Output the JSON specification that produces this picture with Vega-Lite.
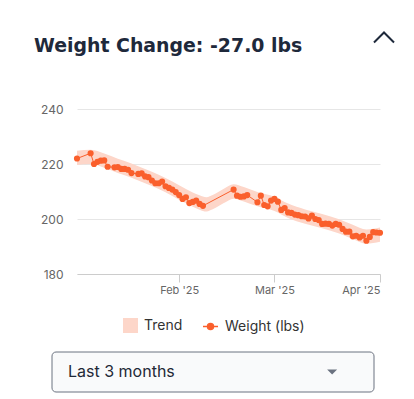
{
  "$schema": "https://vega.github.io/schema/vega-lite/v6.json",
  "background": "white",
  "padding": {"left": 34, "top": 22, "right": 0, "bottom": 0},
  "autosize": {"type": "pad"},
  "spacing": 19,
  "bounds": "full",
  "config": {"view": {"stroke": null}, "font": "Inter"},
  "datasets": {
    "header": [
      {"pos": 0, "row": "a", "label": "Weight Change: -27.0 lbs", "kind": "title"},
      {"pos": 1, "row": "a", "label": "", "kind": "caret"}
    ],
    "dropdown": [
      {"pos": 0, "row": "a", "label": "Last 3 months", "kind": "text"},
      {"pos": 0.87, "row": "a", "label": "", "kind": "arrow"}
    ],
    "weights": [
      {"date": "2025-01-02T00:00:00", "weight": 222.0},
      {"date": "2025-01-06T00:00:00", "weight": 223.9},
      {"date": "2025-01-07T00:00:00", "weight": 220.0},
      {"date": "2025-01-08T00:00:00", "weight": 220.8},
      {"date": "2025-01-09T00:00:00", "weight": 221.2},
      {"date": "2025-01-10T00:00:00", "weight": 221.3},
      {"date": "2025-01-11T00:00:00", "weight": 219.0},
      {"date": "2025-01-13T00:00:00", "weight": 218.8},
      {"date": "2025-01-14T00:00:00", "weight": 218.9},
      {"date": "2025-01-15T00:00:00", "weight": 218.2},
      {"date": "2025-01-16T00:00:00", "weight": 218.2},
      {"date": "2025-01-17T00:00:00", "weight": 217.9},
      {"date": "2025-01-18T00:00:00", "weight": 216.7},
      {"date": "2025-01-20T00:00:00", "weight": 216.4},
      {"date": "2025-01-21T00:00:00", "weight": 216.6},
      {"date": "2025-01-22T00:00:00", "weight": 215.5},
      {"date": "2025-01-23T00:00:00", "weight": 215.2},
      {"date": "2025-01-24T00:00:00", "weight": 214.0},
      {"date": "2025-01-25T00:00:00", "weight": 213.0},
      {"date": "2025-01-26T00:00:00", "weight": 213.0},
      {"date": "2025-01-27T00:00:00", "weight": 213.6},
      {"date": "2025-01-28T00:00:00", "weight": 211.9},
      {"date": "2025-01-29T00:00:00", "weight": 211.3},
      {"date": "2025-01-30T00:00:00", "weight": 210.7},
      {"date": "2025-01-31T00:00:00", "weight": 209.8},
      {"date": "2025-02-01T00:00:00", "weight": 208.7},
      {"date": "2025-02-02T00:00:00", "weight": 207.3},
      {"date": "2025-02-03T00:00:00", "weight": 207.9},
      {"date": "2025-02-04T00:00:00", "weight": 205.8},
      {"date": "2025-02-05T00:00:00", "weight": 206.2},
      {"date": "2025-02-06T00:00:00", "weight": 206.7},
      {"date": "2025-02-07T00:00:00", "weight": 205.5},
      {"date": "2025-02-08T00:00:00", "weight": 204.8},
      {"date": "2025-02-17T00:00:00", "weight": 210.7},
      {"date": "2025-02-18T00:00:00", "weight": 208.5},
      {"date": "2025-02-19T00:00:00", "weight": 208.1},
      {"date": "2025-02-20T00:00:00", "weight": 208.2},
      {"date": "2025-02-21T00:00:00", "weight": 208.7},
      {"date": "2025-02-24T00:00:00", "weight": 206.1},
      {"date": "2025-02-25T00:00:00", "weight": 208.5},
      {"date": "2025-02-26T00:00:00", "weight": 205.1},
      {"date": "2025-02-27T00:00:00", "weight": 204.6},
      {"date": "2025-02-28T00:00:00", "weight": 206.7},
      {"date": "2025-03-01T00:00:00", "weight": 207.3},
      {"date": "2025-03-02T00:00:00", "weight": 206.3},
      {"date": "2025-03-03T00:00:00", "weight": 203.3},
      {"date": "2025-03-04T00:00:00", "weight": 204.0},
      {"date": "2025-03-05T00:00:00", "weight": 202.4},
      {"date": "2025-03-06T00:00:00", "weight": 202.2},
      {"date": "2025-03-07T00:00:00", "weight": 201.6},
      {"date": "2025-03-08T00:00:00", "weight": 201.4},
      {"date": "2025-03-09T00:00:00", "weight": 201.0},
      {"date": "2025-03-10T00:00:00", "weight": 200.9},
      {"date": "2025-03-11T00:00:00", "weight": 200.2},
      {"date": "2025-03-12T00:00:00", "weight": 201.2},
      {"date": "2025-03-13T00:00:00", "weight": 200.0},
      {"date": "2025-03-14T00:00:00", "weight": 199.6},
      {"date": "2025-03-15T00:00:00", "weight": 198.2},
      {"date": "2025-03-16T00:00:00", "weight": 198.3},
      {"date": "2025-03-17T00:00:00", "weight": 198.2},
      {"date": "2025-03-18T00:00:00", "weight": 197.6},
      {"date": "2025-03-19T00:00:00", "weight": 198.2},
      {"date": "2025-03-20T00:00:00", "weight": 197.9},
      {"date": "2025-03-21T00:00:00", "weight": 196.4},
      {"date": "2025-03-22T00:00:00", "weight": 195.4},
      {"date": "2025-03-23T00:00:00", "weight": 195.4},
      {"date": "2025-03-24T00:00:00", "weight": 193.7},
      {"date": "2025-03-25T00:00:00", "weight": 193.9},
      {"date": "2025-03-26T00:00:00", "weight": 193.3},
      {"date": "2025-03-27T00:00:00", "weight": 193.9},
      {"date": "2025-03-28T00:00:00", "weight": 192.1},
      {"date": "2025-03-29T00:00:00", "weight": 193.5},
      {"date": "2025-03-30T00:00:00", "weight": 195.2},
      {"date": "2025-03-31T00:00:00", "weight": 195.1},
      {"date": "2025-04-01T00:00:00", "weight": 195.0}
    ],
    "trend": [
      {"date": "2025-01-02T00:00:00", "lo": 219.6, "hi": 224.8},
      {"date": "2025-01-06T00:00:00", "lo": 220.0, "hi": 225.2},
      {"date": "2025-01-10T00:00:00", "lo": 218.6, "hi": 223.8},
      {"date": "2025-01-14T00:00:00", "lo": 216.7, "hi": 221.9},
      {"date": "2025-01-18T00:00:00", "lo": 215.0, "hi": 220.2},
      {"date": "2025-01-22T00:00:00", "lo": 213.0, "hi": 218.2},
      {"date": "2025-01-26T00:00:00", "lo": 210.9, "hi": 216.1},
      {"date": "2025-01-30T00:00:00", "lo": 208.4, "hi": 213.6},
      {"date": "2025-02-03T00:00:00", "lo": 205.7, "hi": 210.9},
      {"date": "2025-02-07T00:00:00", "lo": 203.4, "hi": 208.6},
      {"date": "2025-02-09T00:00:00", "lo": 202.7, "hi": 207.9},
      {"date": "2025-02-11T00:00:00", "lo": 203.6, "hi": 208.8},
      {"date": "2025-02-14T00:00:00", "lo": 205.7, "hi": 210.9},
      {"date": "2025-02-17T00:00:00", "lo": 207.4, "hi": 212.6},
      {"date": "2025-02-20T00:00:00", "lo": 206.4, "hi": 211.6},
      {"date": "2025-02-24T00:00:00", "lo": 204.6, "hi": 209.8},
      {"date": "2025-03-01T00:00:00", "lo": 202.9, "hi": 208.1},
      {"date": "2025-03-05T00:00:00", "lo": 200.4, "hi": 205.6},
      {"date": "2025-03-10T00:00:00", "lo": 198.3, "hi": 203.5},
      {"date": "2025-03-15T00:00:00", "lo": 196.6, "hi": 201.8},
      {"date": "2025-03-20T00:00:00", "lo": 194.7, "hi": 199.9},
      {"date": "2025-03-24T00:00:00", "lo": 192.7, "hi": 197.9},
      {"date": "2025-03-28T00:00:00", "lo": 191.0, "hi": 196.2},
      {"date": "2025-04-01T00:00:00", "lo": 191.7, "hi": 196.9}
    ]
  },
  "vconcat": [
    {
      "width": 350,
      "height": 62,
      "data": {"name": "header"},
      "encoding": {
        "x": {"field": "pos", "type": "quantitative", "scale": {"domain": [0, 1]}, "axis": null},
        "y": {"field": "row", "type": "nominal", "scale": {"domain": ["a", "b"]}, "axis": null}
      },
      "layer": [
        {
          "transform": [{"filter": "datum.kind === 'title'"}],
          "mark": {"type": "text", "align": "left", "baseline": "middle", "dy": 8, "font": "DejaVu Sans", "fontWeight": "bold", "fontSize": 18.9, "color": "#1e293b"},
          "encoding": {"text": {"field": "label"}}
        },
        {
          "transform": [{"filter": "datum.kind === 'caret'"}],
          "mark": {"type": "point", "shape": "M-1,0.5L0,-0.5L1,0.5", "filled": false, "size": 400, "stroke": "#1e293b", "strokeWidth": 2, "opacity": 1}
        }
      ]
    },
    {
      "spacing": 0,
      "hconcat": [
        {"width": 1, "height": 1, "data": {"values": []}, "mark": "point"},
        {
          "width": 303,
          "height": 165,
          "encoding": {
            "x": {"field": "date", "type": "temporal",
                  "scale": {"domain": [{"year": 2025, "month": 1, "date": 2}, {"year": 2025, "month": 4, "date": 1}], "nice": false},
                  "axis": {"title": null, "grid": false, "format": "%b '%y",
                           "values": [{"year": 2025, "month": 2, "date": 1}, {"year": 2025, "month": 3, "date": 1}, {"year": 2025, "month": 4, "date": 1}],
                           "tickSize": 8, "tickColor": "#cccccc", "domainColor": "#cccccc", "labelPadding": 2,
                           "labelColor": "#666666", "labelFontSize": 11, "labelFont": "Inter", "minExtent": 58}}
          },
          "layer": [
            {
              "data": {"name": "trend"},
              "mark": {"type": "area", "interpolate": "monotone", "opacity": 1},
              "encoding": {
                "y": {"field": "lo", "type": "quantitative", "scale": {"domain": [180, 240], "nice": false, "zero": false},
                      "axis": {"title": null, "values": [180, 200, 220, 240], "ticks": false, "domain": false,
                               "gridColor": "#e6e6e6", "labelColor": "#666666", "labelFontSize": 12, "labelFont": "Inter",
                               "labelPadding": 14, "minExtent": 42}},
                "y2": {"field": "hi"},
                "fill": {"datum": "Trend", "type": "nominal", "scale": {"domain": ["Trend"], "range": ["#fdd6c9"]},
                         "legend": {"title": null, "orient": "none", "legendX": 89, "legendY": 296, "padding": 0,
                                    "symbolType": "square", "symbolSize": 225, "symbolStrokeWidth": 0, "symbolOpacity": 1,
                                    "labelFontSize": 14, "labelColor": "#333333", "labelFont": "Inter", "labelOffset": 6}}
              }
            },
            {
              "data": {"name": "weights"},
              "mark": {"type": "line", "strokeWidth": 1},
              "encoding": {
                "y": {"field": "weight", "type": "quantitative"},
                "stroke": {"datum": "Weight (lbs)", "type": "nominal", "scale": {"domain": ["Weight (lbs)"], "range": ["#fa5f2c"]},
                           "legend": {"title": null, "orient": "none", "legendX": 168, "legendY": 296, "padding": 0,
                                      "symbolType": "M-1,0L1,0M-0.4,0A0.4,0.4 0 1,1 0.4,0A0.4,0.4 0 1,1 -0.4,0Z",
                                      "symbolSize": 225, "symbolStrokeWidth": 1.5,
                                      "labelFontSize": 14, "labelColor": "#333333", "labelFont": "Inter", "labelOffset": 6,
                                      "encode": {"symbols": {"update": {"fill": {"value": "#fa5f2c"}, "stroke": {"value": "#fa5f2c"}}}}}}
              }
            },
            {
              "data": {"name": "weights"},
              "mark": {"type": "circle", "size": 38, "fill": "#fa5f2c", "opacity": 1},
              "encoding": {
                "y": {"field": "weight", "type": "quantitative"}
              }
            }
          ]
        }
      ]
    },
    {
      "spacing": 0,
      "hconcat": [
        {"width": 17, "height": 1, "data": {"values": []}, "mark": "point"},
        {
          "width": 322,
          "height": 40,
          "data": {"name": "dropdown"},
          "layer": [
            {
              "transform": [{"filter": "datum.kind === 'text'"}],
              "mark": {"type": "rect", "fill": "#f9fafb", "stroke": "#6b7280", "strokeWidth": 1, "cornerRadius": 4},
              "encoding": {}
            },
            {
              "transform": [{"filter": "datum.kind === 'text'"}],
              "mark": {"type": "text", "align": "left", "baseline": "middle", "dx": 16, "fontSize": 16, "font": "Inter", "color": "#1f2937"},
              "encoding": {
                "x": {"field": "pos", "type": "quantitative", "scale": {"domain": [0, 1]}, "axis": null},
                "y": {"field": "row", "type": "nominal", "scale": {"domain": ["a"]}, "axis": null},
                "text": {"field": "label"}
              }
            },
            {
              "transform": [{"filter": "datum.kind === 'arrow'"}],
              "mark": {"type": "point", "shape": "M-1,-0.5L1,-0.5L0,0.5Z", "filled": true, "size": 100, "fill": "#6b7280", "opacity": 1},
              "encoding": {
                "x": {"field": "pos", "type": "quantitative"},
                "y": {"field": "row", "type": "nominal"}
              }
            }
          ]
        }
      ]
    }
  ]
}
